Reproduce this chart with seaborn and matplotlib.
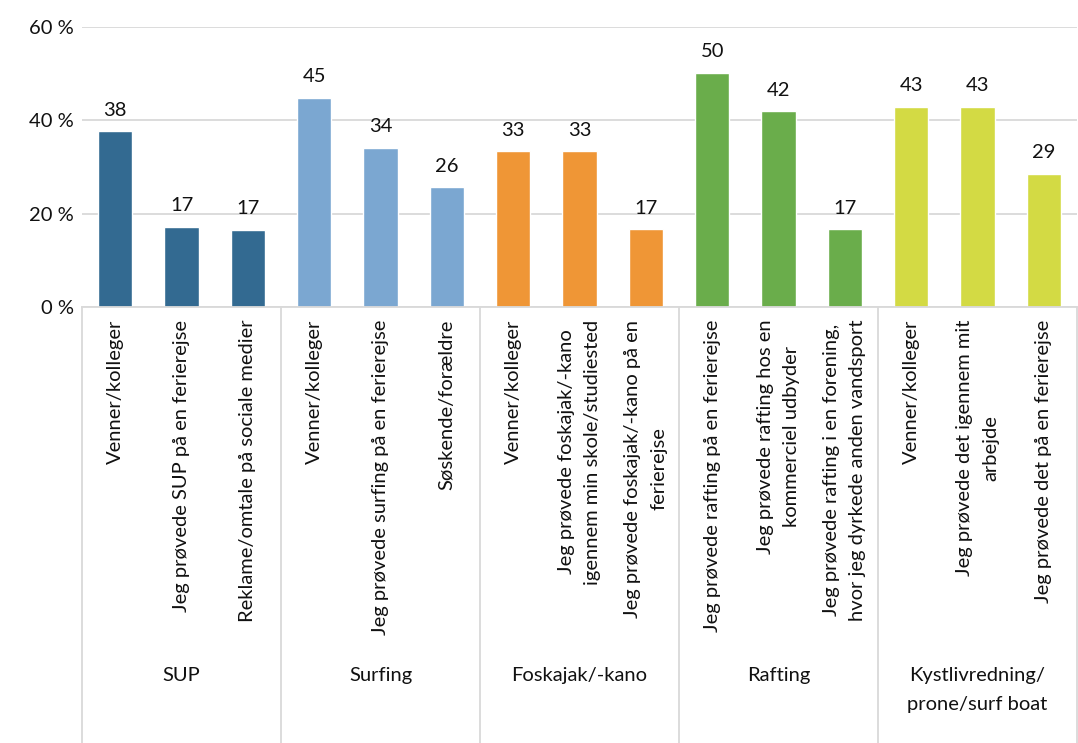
import numpy as np
import pandas as pd
import matplotlib
matplotlib.use("Agg")
import matplotlib.pyplot as plt
import matplotlib.transforms as mtransforms
import seaborn as sns

# data
groups = ["SUP", "Surfing", "Foskajak/-kano", "Rafting", "Kystlivredning/\nprone/surf boat"]
sup_labels = ["Venner/kolleger", "Jeg prøvede SUP på en ferierejse", "Reklame/omtale på sociale medier"]
surf_labels = ["Venner/kolleger", "Jeg prøvede surfing på en ferierejse", "Søskende/forældre"]
kajak_labels = ["Venner/kolleger", "Jeg prøvede foskajak/-kano\nigennem min skole/studiested",
                "Jeg prøvede foskajak/-kano på en\nferierejse"]
raft_labels = ["Jeg prøvede rafting på en ferierejse", "Jeg prøvede rafting hos en\nkommerciel udbyder",
               "Jeg prøvede rafting i en forening,\nhvor jeg dyrkede anden vandsport"]
kyst_labels = ["Venner/kolleger", "Jeg prøvede det igennem mit\narbejde", "Jeg prøvede det på en ferierejse"]

sup_vals = [37.7, 17.2, 16.6]
surf_vals = [44.8, 34.1, 25.7]
kajak_vals = [33.4, 33.4, 16.7]
raft_vals = [50.2, 41.9, 16.7]
kyst_vals = [42.9, 42.9, 28.6]

colors = ["#336A91", "#7BA7D1", "#EF9636", "#6AAD4B", "#D3DA44"]

all_labels = sup_labels + surf_labels + kajak_labels + raft_labels + kyst_labels
all_vals = sup_vals + surf_vals + kajak_vals + raft_vals + kyst_vals
grp = [g for g in groups for _ in range(3)]
df = pd.DataFrame({"key": [str(i) for i in range(len(all_vals))],
                   "label": all_labels, "value": all_vals, "group": grp})

sns.set_style("white")
plt.rcParams['font.family'] = ['Lato', 'DejaVu Sans']
txt = "#111111"
fs = 14.5

fig = plt.figure(figsize=(10.78, 7.43), dpi=100)
ax = fig.add_axes([82 / 1078, 1 - 307 / 743, 995 / 1078, 280 / 743])

sns.barplot(data=df, x="key", y="value", hue="group", dodge=False,
            palette=colors, width=0.52, ax=ax, legend=False, saturation=1)

ax.set_ylim(0, 60)
ax.set_xlim(-0.5, len(all_vals) - 0.5)
ax.set_yticks([0, 20, 40, 60])
ax.set_yticklabels([f"{v} %" for v in [0, 20, 40, 60]], fontsize=fs, color=txt)
ax.yaxis.grid(True, color="#D9D9D9", linewidth=1.3)
ax.set_axisbelow(True)
for s in ["top", "right", "left"]:
    ax.spines[s].set_visible(False)
ax.spines["bottom"].set_color("#D9D9D9")
ax.spines["bottom"].set_linewidth(1.3)
ax.tick_params(length=0, pad=6)

ax.set_xticks(range(len(all_vals)))
ax.set_xticklabels(all_labels, rotation=90, fontsize=fs, color=txt,
                   ha="center", va="top", multialignment="center")
for t in ax.get_xticklabels():
    t.set_linespacing(1.65)
ax.tick_params(axis="x", pad=9)
ax.set_xlabel("")
ax.set_ylabel("")

# value labels
for cont in ax.containers:
    ax.bar_label(cont, labels=[f"{v:.0f}" if v == v else "" for v in cont.datavalues],
                 padding=9, fontsize=fs, color=txt)

# group separators and group names
trans = mtransforms.blended_transform_factory(ax.transData, fig.transFigure)
for i in range(len(groups) + 1):
    x = i * 3 - 0.5
    ax.plot([x, x], [1 - 307 / 743, 0], transform=trans, color="#D9D9D9",
            linewidth=1.3, clip_on=False)
for i, g in enumerate(groups):
    ax.text(i * 3 + 1, 1 - 667 / 743, g, transform=trans, ha="center", va="top",
            fontsize=fs, color=txt, linespacing=1.85)

fig.savefig("out.png", dpi=100)
